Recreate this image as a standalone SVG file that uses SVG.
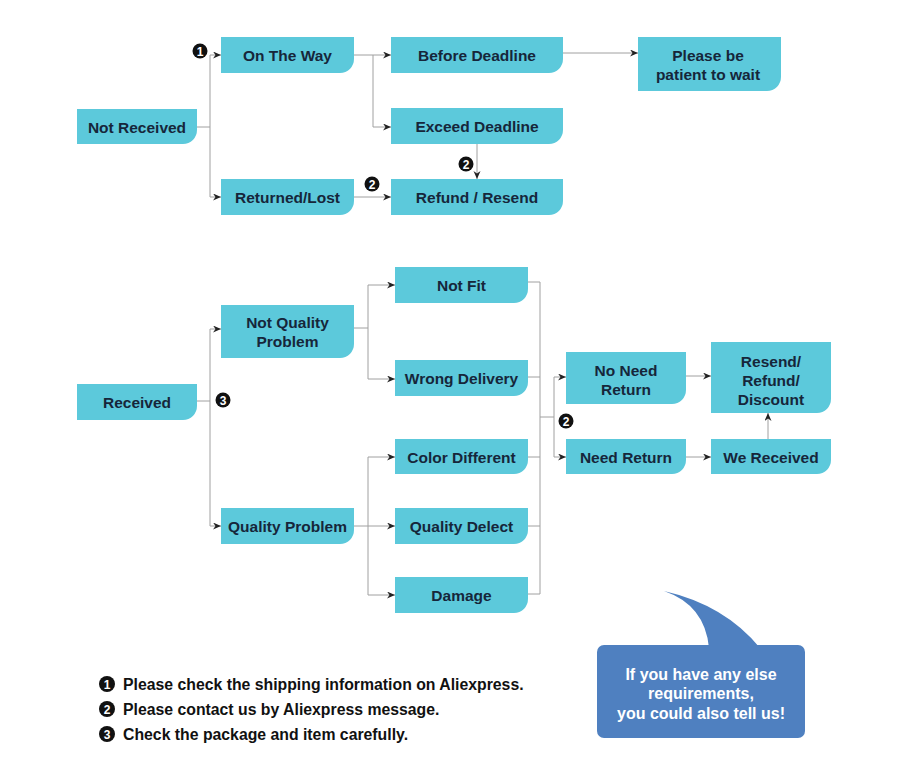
<svg xmlns="http://www.w3.org/2000/svg" width="902" height="780" viewBox="0 0 902 780">
<defs>
<marker id="ah" markerWidth="9" markerHeight="8" refX="8" refY="3.5" orient="auto" markerUnits="userSpaceOnUse">
<path d="M0,0 L8,3.5 L0,7 L2.5,3.5 z" fill="#222"/>
</marker>
<style>
.node{fill:#5cc9db}
.t{font-family:"Liberation Sans",Arial,sans-serif;font-weight:bold;font-size:15.5px;fill:#16263a;text-anchor:middle;dominant-baseline:central}
.c{fill:none;stroke:#a0a0a0;stroke-width:1}
.a{marker-end:url(#ah)}
.b{fill:#111}
.bn{font-family:"Liberation Sans",Arial,sans-serif;font-weight:bold;font-size:12px;fill:#fff;text-anchor:middle;dominant-baseline:central}
.lg{font-family:"Liberation Sans",Arial,sans-serif;font-weight:bold;font-size:15.8px;fill:#111;dominant-baseline:central}
.bt{font-family:"Liberation Sans",Arial,sans-serif;font-weight:bold;font-size:16px;fill:#fff;text-anchor:middle;dominant-baseline:central}
</style>
</defs>
<rect width="902" height="780" fill="#ffffff"/>
<g id="connectors">
<path class="c" d="M197,127 H210 M210,55 V197"/>
<path class="c a" d="M210,55 H221"/>
<path class="c a" d="M210,197 H221"/>
<path class="c" d="M354,55 H373 V127"/>
<path class="c a" d="M373,55 H391"/>
<path class="c a" d="M373,127 H391"/>
<path class="c a" d="M563,53 H638"/>
<path class="c a" d="M477,144 V179"/>
<path class="c a" d="M354,197 H391"/>
<path class="c" d="M197,401 H210 M210,329 V526"/>
<path class="c a" d="M210,329 H221"/>
<path class="c a" d="M210,526 H221"/>
<path class="c" d="M354,328 H368 M368,285 V379"/>
<path class="c a" d="M368,285 H395"/>
<path class="c a" d="M368,379 H395"/>
<path class="c a" d="M354,526 H395"/>
<path class="c" d="M368,457 V595"/>
<path class="c a" d="M368,457 H395"/>
<path class="c a" d="M368,595 H395"/>
<path class="c" d="M528,282 H540 M528,377 H540 M528,457 H540 M528,526 H540 M528,594 H540 M540,282 V594 M540,417 H554 M554,377 V457"/>
<path class="c a" d="M554,377 H566"/>
<path class="c a" d="M554,457 H566"/>
<path class="c a" d="M686,376 H711"/>
<path class="c a" d="M686,457 H711"/>
<path class="c a" d="M768,439 V413"/>
</g>
<g id="n1"><path class="node" d="M77,109 h120 v21 a14,14 0 0 1 -14,14 h-106 z"/><text class="t" x="137" y="127">Not Received</text></g>
<g id="n2"><path class="node" d="M221,37 h133 v22 a14,14 0 0 1 -14,14 h-119 z"/><text class="t" x="287.5" y="55">On The Way</text></g>
<g id="n3"><path class="node" d="M221,179 h133 v22 a14,14 0 0 1 -14,14 h-119 z"/><text class="t" x="287.5" y="197">Returned/Lost</text></g>
<g id="n4"><path class="node" d="M391,37 h172 v22 a14,14 0 0 1 -14,14 h-158 z"/><text class="t" x="477" y="55">Before Deadline</text></g>
<g id="n5"><path class="node" d="M391,108 h172 v22 a14,14 0 0 1 -14,14 h-158 z"/><text class="t" x="477" y="126">Exceed Deadline</text></g>
<g id="n6"><path class="node" d="M391,179 h172 v22 a14,14 0 0 1 -14,14 h-158 z"/><text class="t" x="477" y="197">Refund / Resend</text></g>
<g id="n7"><path class="node" d="M638,37 h143 v40 a14,14 0 0 1 -14,14 h-129 z"/><text class="t" x="708" y="55">Please be</text><text class="t" x="708" y="74">patient to wait</text></g>
<g id="n8"><path class="node" d="M77,384 h120 v22 a14,14 0 0 1 -14,14 h-106 z"/><text class="t" x="137" y="402">Received</text></g>
<g id="n9"><path class="node" d="M221,305 h133 v39 a14,14 0 0 1 -14,14 h-119 z"/><text class="t" x="287.5" y="322">Not Quality</text><text class="t" x="287.5" y="341">Problem</text></g>
<g id="n10"><path class="node" d="M221,508 h133 v22 a14,14 0 0 1 -14,14 h-119 z"/><text class="t" x="287.5" y="526">Quality Problem</text></g>
<g id="n11"><path class="node" d="M395,267 h133 v22 a14,14 0 0 1 -14,14 h-119 z"/><text class="t" x="461.5" y="285">Not Fit</text></g>
<g id="n12"><path class="node" d="M395,360 h133 v22 a14,14 0 0 1 -14,14 h-119 z"/><text class="t" x="461.5" y="378">Wrong Delivery</text></g>
<g id="n13"><path class="node" d="M395,439 h133 v21 a14,14 0 0 1 -14,14 h-119 z"/><text class="t" x="461.5" y="457">Color Different</text></g>
<g id="n14"><path class="node" d="M395,508 h133 v22 a14,14 0 0 1 -14,14 h-119 z"/><text class="t" x="461.5" y="526">Quality Delect</text></g>
<g id="n15"><path class="node" d="M395,577 h133 v22 a14,14 0 0 1 -14,14 h-119 z"/><text class="t" x="461.5" y="595">Damage</text></g>
<g id="n16"><path class="node" d="M566,352 h120 v38 a14,14 0 0 1 -14,14 h-106 z"/><text class="t" x="626" y="370">No Need</text><text class="t" x="626" y="389">Return</text></g>
<g id="n17"><path class="node" d="M566,439 h120 v21 a14,14 0 0 1 -14,14 h-106 z"/><text class="t" x="626" y="457">Need Return</text></g>
<g id="n18"><path class="node" d="M711,342 h120 v57 a14,14 0 0 1 -14,14 h-106 z"/><text class="t" x="771" y="361">Resend/</text><text class="t" x="771" y="380">Refund/</text><text class="t" x="771" y="399">Discount</text></g>
<g id="n19"><path class="node" d="M711,439 h120 v21 a14,14 0 0 1 -14,14 h-106 z"/><text class="t" x="771" y="457">We Received</text></g>
<g id="badges">
<circle class="b" cx="200" cy="51" r="7.5"/><text class="bn" x="200" y="51.5">1</text>
<circle class="b" cx="372" cy="184" r="7.5"/><text class="bn" x="372" y="184.5">2</text>
<circle class="b" cx="466" cy="164" r="7.5"/><text class="bn" x="466" y="164.5">2</text>
<circle class="b" cx="223" cy="400" r="7.5"/><text class="bn" x="223" y="400.5">3</text>
<circle class="b" cx="566" cy="421" r="7.5"/><text class="bn" x="566" y="421.5">2</text>
</g>
<g id="legend">
<circle class="b" cx="107" cy="684" r="8"/><text class="bn" x="107" y="684.5">1</text>
<text class="lg" x="123" y="684">Please check the shipping information on Aliexpress.</text>
<circle class="b" cx="107" cy="709" r="8"/><text class="bn" x="107" y="709.5">2</text>
<text class="lg" x="123" y="709">Please contact us by Aliexpress message.</text>
<circle class="b" cx="107" cy="734" r="8"/><text class="bn" x="107" y="734.5">3</text>
<text class="lg" x="123" y="734">Check the package and item carefully.</text>
</g>
<g id="bubble">
<path d="M664,591 Q705,605 709,648 L760,648 Q725,605 664,591 Z" fill="#4f80c0"/>
<rect x="597" y="645" width="208" height="93" rx="7" fill="#4f80c0"/>
<text class="bt" x="701" y="674">If you have any else</text>
<text class="bt" x="701" y="693">requirements,</text>
<text class="bt" x="701" y="713">you could also tell us!</text>
</g>
</svg>
